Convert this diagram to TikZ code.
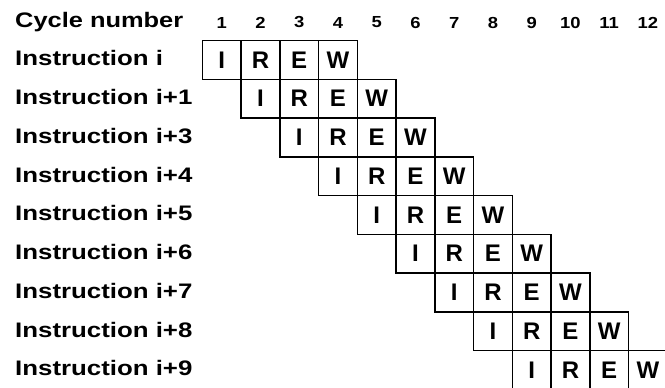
\documentclass[tikz,border=0pt]{standalone}
\usepackage{fontspec}
\setmainfont{Liberation Sans}
\usepackage{graphicx}
\begin{document}
\begin{tikzpicture}[x=1pt,y=-1pt,
  cell/.style={draw, line width=1.5pt, minimum width=38.75pt, minimum height=38.75pt, inner sep=0pt, font=\fontsize{24}{28}\selectfont\bfseries},
  rowlab/.style={anchor=west, inner sep=0pt, font=\fontsize{21}{25}\selectfont\bfseries},
  cyclab/.style={inner sep=0pt, font=\fontsize{16}{19}\selectfont\bfseries}]
\useasboundingbox (0,0) rectangle (665,388);
\fill[white] (0,0) rectangle (665,388);
\node[rowlab] (head) at (15,22) {\scalebox{1.21}[1]{Cycle number}};
\foreach \c in {1,...,12}{
  \node[cyclab] (cyc\c) at ({202.3+(\c-0.5)*38.75},22.5) {\scalebox{1.15}[1]{\c}};
}
\foreach \r/\lab in {0/i,1/i+1,2/i+3,3/i+4,4/i+5,5/i+6,6/i+7,7/i+8,8/i+9}{
  \node[rowlab] (lab\r) at (15,{40.5+(\r+0.5)*38.75-1.5}) {\scalebox{1.23}[1]{Instruction \lab}};
  \foreach \k/\s in {0/I,1/R,2/E,3/W}{
    \node[cell] (cell\r-\k) at ({202.3+(\r+\k+0.5)*38.75},{40.5+(\r+0.5)*38.75}) {\s};
  }
}
\end{tikzpicture}
\end{document}
